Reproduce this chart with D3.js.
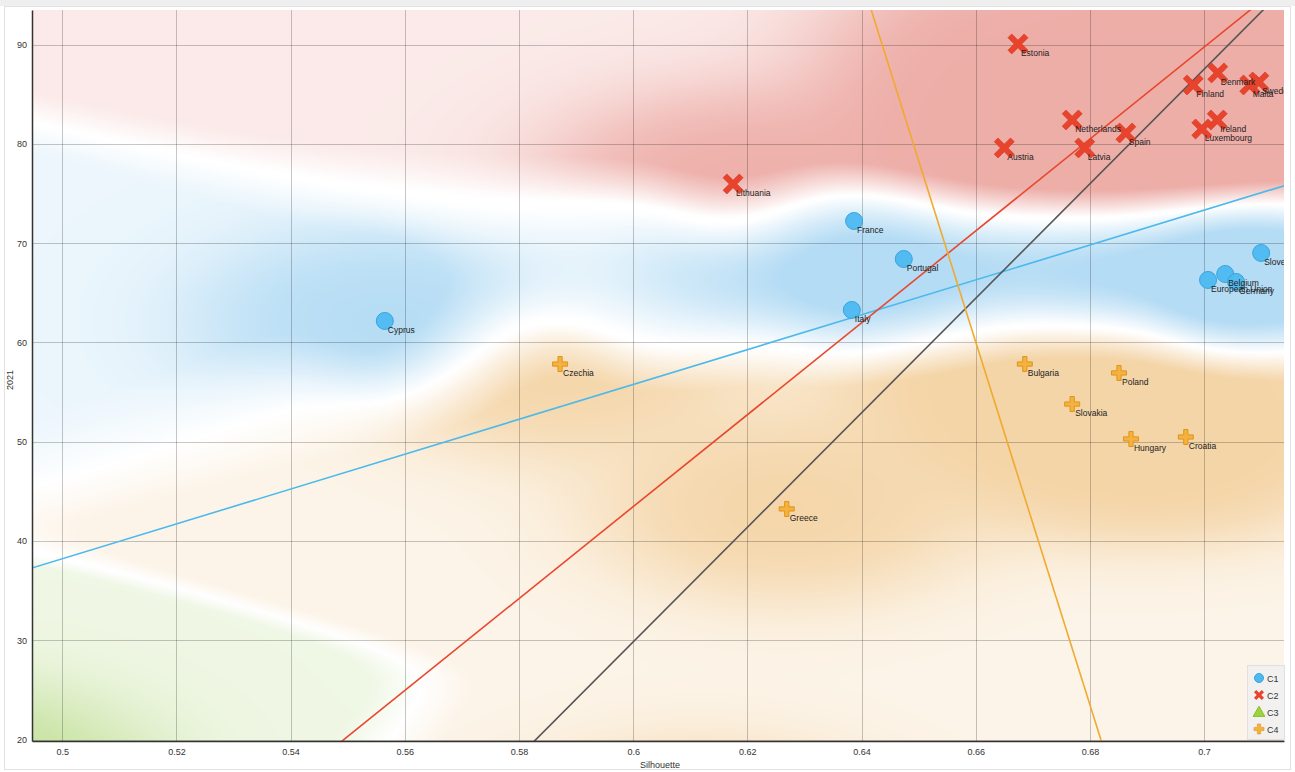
<!DOCTYPE html>
<html><head><meta charset="utf-8">
<script src="https://cdn.jsdelivr.net/npm/d3@7"></script>
<style>
body{margin:0;background:#fff;}
svg{display:block;font-family:"Liberation Sans",Arial,sans-serif;}
</style></head><body>
<svg id="chart" width="1295" height="772"></svg>
<script>
// ---------------- DATA ----------------
const classNames = ["C1", "C2", "C3", "C4"];

const c1Countries = ["Cyprus", "France", "Portugal", "Italy", "Slovenia", "European Union", "Belgium", "Germany"];
const c1Silhouette = [0.5565, 0.6387, 0.6474, 0.6383, 0.7100, 0.7007, 0.7037, 0.7056];
const c1Value2021 = [62.17, 72.24, 68.41, 63.28, 69.02, 66.30, 66.90, 66.10];

const c2Countries = ["Estonia", "Denmark", "Finland", "Malta", "Sweden", "Netherlands", "Ireland", "Luxembourg", "Spain", "Austria", "Latvia", "Lithuania"];
const c2Silhouette = [0.6674, 0.7024, 0.6981, 0.7080, 0.7096, 0.6769, 0.7023, 0.6996, 0.6863, 0.6650, 0.6791, 0.6175];
const c2Value2021 = [90.08, 87.16, 85.95, 85.95, 86.25, 82.42, 82.42, 81.51, 81.11, 79.60, 79.60, 75.97];

const c4Countries = ["Czechia", "Greece", "Bulgaria", "Poland", "Slovakia", "Hungary", "Croatia"];
const c4Silhouette = [0.5872, 0.6269, 0.6686, 0.6851, 0.6769, 0.6872, 0.6968];
const c4Value2021 = [57.83, 43.23, 57.83, 56.93, 53.80, 50.28, 50.48];

// Estimated members lying outside the visible window (implied by the class-density background)
const hiddenC3Silhouette = [0.4821];
const hiddenC3Value2021 = [15.9];
const hiddenC4Silhouette = [0.6117];
const hiddenC4Value2021 = [9.87];

const xTicks = [0.5, 0.52, 0.54, 0.56, 0.58, 0.6, 0.62, 0.64, 0.66, 0.68, 0.7];
const xTickLabels = ["0.5", "0.52", "0.54", "0.56", "0.58", "0.6", "0.62", "0.64", "0.66", "0.68", "0.7"];
const yTicks = [20, 30, 40, 50, 60, 70, 80, 90];
const xDomain = [0.4947, 0.7140];
const yDomain = [19.85, 93.5];

// Regression lines: value = slope * silhouette + intercept
const fitNames = ["C1", "C2", "all", "C4"];
const fitSlopes = [175.6, 463.0, 577.0, -1827.5];
const fitIntercepts = [-49.59, -234.34, -316.37, 1266.21];
const fitColors = ["#4bb9ec", "#e8482f", "#555555", "#f0aa30"];

// ---------------- CHART ----------------
const svg = d3.select("#chart");
const L = 32, R = 1284, T = 10, B = 741;
const x = d3.scaleLinear().domain(xDomain).range([L, R]);
const y = d3.scaleLinear().domain(yDomain).range([B, T]);

// outer frame
svg.append("rect").attr("x", 0).attr("y", 0).attr("width", 1295).attr("height", 6).attr("fill", "#efefef");
svg.append("rect").attr("x", 4.5).attr("y", 6.5).attr("width", 1286).attr("height", 763)
  .attr("fill", "#fff").attr("stroke", "#e2e2e2");

const defs = svg.append("defs");
defs.append("clipPath").attr("id", "plotclip").append("rect")
  .attr("x", L).attr("y", T).attr("width", R - L).attr("height", B - T);

// collect points for density
const groups = [
  {cls: 0, names: c1Countries, xs: c1Silhouette, ys: c1Value2021},
  {cls: 1, names: c2Countries, xs: c2Silhouette, ys: c2Value2021},
  {cls: 3, names: c4Countries, xs: c4Silhouette, ys: c4Value2021},
];
const densityPts = [];
groups.forEach(g => g.xs.forEach((v, i) => densityPts.push({c: g.cls, px: x(v), py: y(g.ys[i])})));
hiddenC3Silhouette.forEach((v, i) => densityPts.push({c: 2, px: x(v), py: y(hiddenC3Value2021[i])}));
hiddenC4Silhouette.forEach((v, i) => densityPts.push({c: 3, px: x(v), py: y(hiddenC4Value2021[i])}));

// class-density background
const bgColors = [[95, 180, 232], [218, 82, 70], [125, 188, 35], [232, 165, 68]];
(function drawDensity() {
  const step = 2;
  const cw = Math.ceil((R - L) / step), ch = Math.ceil((B - T) / step);
  const canvas = document.createElement("canvas");
  canvas.width = cw; canvas.height = ch;
  const ctx = canvas.getContext("2d");
  const img = ctx.createImageData(cw, ch);
  const sx = 220, sy = 68, sxi = 105, syi = 52, sn = 45, lambda = 0.8;
  const isx2 = 1 / (sx * sx), isy2 = 1 / (sy * sy), isxi2 = 1 / (sxi * sxi), isyi2 = 1 / (syi * syi), isn2 = 1 / (sn * sn);
  const n = densityPts.length;
  const w = new Float64Array(4), wi = new Float64Array(4);
  for (let j = 0; j < ch; j++) {
    const py = T + (j + 0.5) * step;
    for (let i = 0; i < cw; i++) {
      const px = L + (i + 0.5) * step;
      w.fill(0); wi.fill(0);
      for (let k = 0; k < n; k++) {
        const p = densityPts[k];
        const dx = px - p.px, dy = py - p.py;
        const dx2 = dx * dx, dy2 = dy * dy;
        w[p.c] += Math.exp(-0.5 * (dx2 * isx2 + dy2 * isy2)) + lambda * Math.exp(-0.5 * (dx2 + dy2) * isn2);
        wi[p.c] += Math.exp(-0.5 * (dx2 * isxi2 + dy2 * isyi2));
      }
      let best = 0, tot = 0, bestV = 0;
      for (let c = 0; c < 4; c++) {
        tot += w[c];
        if (w[c] > bestV) { bestV = w[c]; best = c; }
      }
      const s = tot > 0 ? bestV / tot : 0;
      const pur = Math.max(0, Math.min(1, (s - 0.5) / 0.2));
      const g = 1 - Math.exp(-wi[best] / 0.35);
      const a = pur * (0.12 + 0.35 * g);
      const col = bgColors[best];
      const o = (j * cw + i) * 4;
      img.data[o] = 255 * (1 - a) + col[0] * a;
      img.data[o + 1] = 255 * (1 - a) + col[1] * a;
      img.data[o + 2] = 255 * (1 - a) + col[2] * a;
      img.data[o + 3] = 255;
    }
  }
  ctx.putImageData(img, 0, 0);
  svg.append("image").attr("x", L).attr("y", T).attr("width", R - L).attr("height", B - T)
    .attr("preserveAspectRatio", "none").attr("href", canvas.toDataURL());
})();

// grid
const grid = svg.append("g").attr("clip-path", "url(#plotclip)");
grid.selectAll("line.vx").data(xTicks).join("line")
  .attr("x1", d => Math.round(x(d)) + 0.5).attr("x2", d => Math.round(x(d)) + 0.5)
  .attr("y1", T).attr("y2", B).attr("stroke", "rgba(0,0,0,0.22)").attr("stroke-width", 1);
grid.selectAll("line.hy").data(yTicks).join("line")
  .attr("y1", d => Math.round(y(d)) + 0.5).attr("y2", d => Math.round(y(d)) + 0.5)
  .attr("x1", L).attr("x2", R).attr("stroke", "rgba(0,0,0,0.22)").attr("stroke-width", 1);

// regression lines
const lineGen = d3.line().x(d => x(d[0])).y(d => y(d[1]));
const linesG = svg.append("g").attr("clip-path", "url(#plotclip)");
fitNames.forEach((nm, i) => {
  const pts = [xDomain[0] - 0.01, xDomain[1] + 0.01].map(v => [v, fitSlopes[i] * v + fitIntercepts[i]]);
  linesG.append("path").attr("d", lineGen(pts)).attr("fill", "none")
    .attr("stroke", fitColors[i]).attr("stroke-width", 1.6);
});

// axes
const xAxis = d3.axisBottom(x).tickValues(xTicks).tickFormat((d, i) => xTickLabels[i]).tickSize(0).tickPadding(8);
const yAxis = d3.axisLeft(y).tickValues(yTicks).tickSize(0).tickPadding(5);
const gx = svg.append("g").attr("transform", `translate(0,${B})`).call(xAxis);
const gy = svg.append("g").attr("transform", `translate(${L},0)`).call(yAxis);
[gx, gy].forEach(g => {
  g.select(".domain").attr("stroke", "#333").attr("stroke-width", 1.5);
  g.selectAll("text").attr("font-size", 9).attr("fill", "#333").attr("font-family", "Liberation Sans, Arial, sans-serif");
});
svg.append("text").attr("x", 660).attr("y", 768).attr("text-anchor", "middle")
  .attr("font-size", 9).attr("fill", "#333").text("Silhouette");
svg.append("text").attr("transform", "translate(13,380) rotate(-90)").attr("text-anchor", "middle")
  .attr("font-size", 9).attr("fill", "#333").text("2021");

// symbols
function crossPath(a, t) {
  return `M${-t},${-a}H${t}V${-t}H${a}V${t}H${t}V${a}H${-t}V${t}H${-a}V${-t}H${-t}Z`;
}
const markG = svg.append("g").attr("clip-path", "url(#plotclip)");
const labelG = svg.append("g").attr("clip-path", "url(#plotclip)");

const c1Data = c1Countries.map((n, i) => ({n, x: c1Silhouette[i], y: c1Value2021[i]}));
const c2Data = c2Countries.map((n, i) => ({n, x: c2Silhouette[i], y: c2Value2021[i]}));
const c4Data = c4Countries.map((n, i) => ({n, x: c4Silhouette[i], y: c4Value2021[i]}));

markG.selectAll("circle.c1").data(c1Data).join("circle")
  .attr("cx", d => x(d.x)).attr("cy", d => y(d.y)).attr("r", 8.5)
  .attr("fill", "#4db9f1").attr("stroke", "#3aa3dc").attr("stroke-width", 1).attr("fill-opacity", 0.95);
markG.selectAll("path.c2").data(c2Data).join("path")
  .attr("d", crossPath(11.5, 2.7))
  .attr("transform", d => `translate(${x(d.x)},${y(d.y)}) rotate(45)`)
  .attr("fill", "#e8432c").attr("stroke", "#d63a24").attr("stroke-width", 0.6);
markG.selectAll("path.c4").data(c4Data).join("path")
  .attr("d", crossPath(7.5, 2.1))
  .attr("transform", d => `translate(${x(d.x)},${y(d.y)})`)
  .attr("fill", "#f6b23a").attr("stroke", "#dc9520").attr("stroke-width", 1);

const allLabels = [...c1Data, ...c2Data, ...c4Data];
labelG.selectAll("text").data(allLabels).join("text")
  .attr("x", d => x(d.x) + 3).attr("y", d => y(d.y) + 12)
  .attr("font-size", 8.5).attr("fill", "#222").text(d => d.n);

// legend
const lg = svg.append("g");
lg.append("rect").attr("x", 1247.5).attr("y", 665.5).attr("width", 37).attr("height", 74)
  .attr("fill", "rgba(240,240,240,0.85)").attr("stroke", "#e0e0e0");
const legY = [678, 695, 712, 729];
classNames.forEach((c, i) => {
  const cy = legY[i], cx = 1259;
  if (i === 0) lg.append("circle").attr("cx", cx).attr("cy", cy).attr("r", 4.5).attr("fill", "#4db9f1").attr("stroke", "#3aa3dc");
  if (i === 1) lg.append("path").attr("d", crossPath(5.5, 1.6)).attr("transform", `translate(${cx},${cy}) rotate(45)`).attr("fill", "#e8432c");
  if (i === 2) lg.append("path").attr("d", d3.symbol(d3.symbolTriangle, 60)()).attr("transform", `translate(${cx},${cy + 1})`).attr("fill", "#9bd43c").attr("stroke", "#86c02c");
  if (i === 3) lg.append("path").attr("d", crossPath(5, 1.6)).attr("transform", `translate(${cx},${cy})`).attr("fill", "#f6b23a").attr("stroke", "#dc9520").attr("stroke-width", 0.6);
  lg.append("text").attr("x", 1267).attr("y", cy + 3.5).attr("font-size", 9).attr("fill", "#333").text(c);
});
</script>
</body></html>
